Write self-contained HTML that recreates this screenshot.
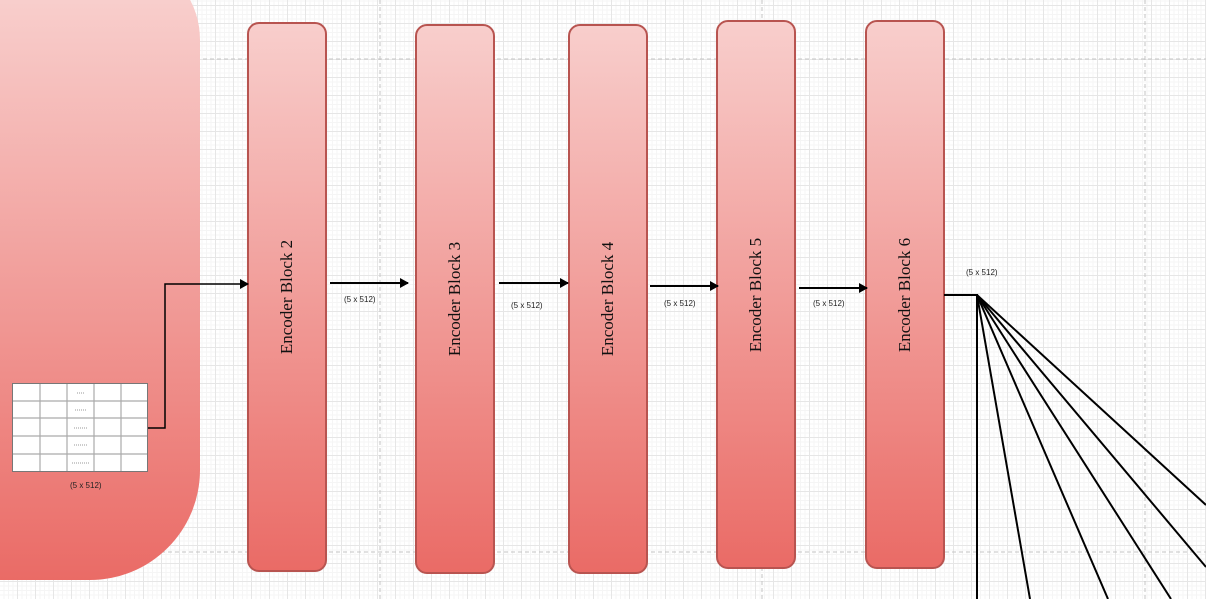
<!DOCTYPE html>
<html><head><meta charset="utf-8"><style>
body{margin:0;width:1206px;height:599px;overflow:hidden;position:relative;background:#fff;
background-image:linear-gradient(#e6e6e6 1px,transparent 1px),linear-gradient(90deg,#e6e6e6 1px,transparent 1px),linear-gradient(#f5f5f5 1px,transparent 1px),linear-gradient(90deg,#f5f5f5 1px,transparent 1px);
background-size:18px 18px,18px 18px,4.5px 4.5px,4.5px 4.5px;background-position:-1px 5px,-1px 5px,-1px 5px,-1px 5px;font-family:"Liberation Sans",sans-serif}
.b{position:absolute;width:80px;border:2px solid #b85450;border-radius:12px;background:linear-gradient(#f8cecc,#ea6b66);box-sizing:border-box}
.b span{position:absolute;left:50%;top:50%;transform:translate(-50%,-50%) rotate(-90deg);white-space:nowrap;font-family:"Liberation Serif",serif;font-size:17px;color:#111}
.l{position:absolute;font-size:8px;color:#222}
</style></head><body>
<svg width="1206" height="599" style="position:absolute;left:0;top:0">
<g stroke="#c4c4c4" stroke-dasharray="4 3" stroke-width="1">
<line x1="0" y1="59" x2="1206" y2="59"/><line x1="0" y1="552" x2="1206" y2="552"/>
<line x1="380" y1="0" x2="380" y2="599"/><line x1="762" y1="0" x2="762" y2="599"/><line x1="1145" y1="0" x2="1145" y2="599"/>
</g></svg>
<div style="position:absolute;left:-60px;top:-30px;width:260px;height:610px;border-radius:0 55px 110px 0/0 70px 110px 0;background:linear-gradient(#f8cecc 5%,#ea6b66)"></div>
<div class="b" style="left:247px;top:22px;height:550px"><span>Encoder Block 2</span></div>
<div class="b" style="left:415px;top:24px;height:550px"><span>Encoder Block 3</span></div>
<div class="b" style="left:568px;top:24px;height:550px"><span>Encoder Block 4</span></div>
<div class="b" style="left:716px;top:20px;height:549px"><span>Encoder Block 5</span></div>
<div class="b" style="left:865px;top:20px;height:549px"><span>Encoder Block 6</span></div>
<svg width="1206" height="599" style="position:absolute;left:0;top:0">
<defs><marker id="a" markerWidth="9" markerHeight="10" refX="8" refY="5" orient="auto" markerUnits="userSpaceOnUse"><path d="M0,0L9,5L0,10z" fill="#000"/></marker></defs>
<g stroke="#000" stroke-width="2" fill="none">
<polyline points="148,428 165,428 165,284 248,284" stroke-width="1.5" marker-end="url(#a)"/>
<line x1="330" y1="283" x2="408" y2="283" marker-end="url(#a)"/>
<line x1="499" y1="283" x2="568" y2="283" marker-end="url(#a)"/>
<line x1="650" y1="286" x2="718" y2="286" marker-end="url(#a)"/>
<line x1="799" y1="288" x2="867" y2="288" marker-end="url(#a)"/>
<polyline points="944,295 977,295 977,599"/>
<line x1="977" y1="295" x2="1030" y2="599"/><line x1="977" y1="295" x2="1108" y2="599"/>
<line x1="977" y1="295" x2="1171" y2="599"/><line x1="977" y1="295" x2="1206" y2="567"/>
<line x1="977" y1="295" x2="1206" y2="505"/>
</g>
<g>
<rect x="12.5" y="383.5" width="135" height="88" fill="#fff" stroke="#777"/>
<g stroke="#aaa" stroke-width="1.2">
<line x1="40" y1="384" x2="40" y2="471"/><line x1="67" y1="384" x2="67" y2="471"/><line x1="94" y1="384" x2="94" y2="471"/><line x1="121" y1="384" x2="121" y2="471"/>
<line x1="13" y1="401" x2="147" y2="401"/><line x1="13" y1="418" x2="147" y2="418"/><line x1="13" y1="436" x2="147" y2="436"/><line x1="13" y1="454" x2="147" y2="454"/>
</g>
<g stroke="#999" stroke-dasharray="1 1"><line x1="77" y1="393" x2="85" y2="393"/><line x1="75" y1="410" x2="86" y2="410"/><line x1="74" y1="428" x2="87" y2="428"/><line x1="74" y1="445" x2="87" y2="445"/><line x1="72" y1="463" x2="89" y2="463"/></g>
</g></svg>
<div class="l" style="left:70px;top:481px">(5 x 512)</div>
<div class="l" style="left:344px;top:295px">(5 x 512)</div>
<div class="l" style="left:511px;top:301px">(5 x 512)</div>
<div class="l" style="left:664px;top:299px">(5 x 512)</div>
<div class="l" style="left:813px;top:299px">(5 x 512)</div>
<div class="l" style="left:966px;top:268px">(5 x 512)</div>
</body></html>
